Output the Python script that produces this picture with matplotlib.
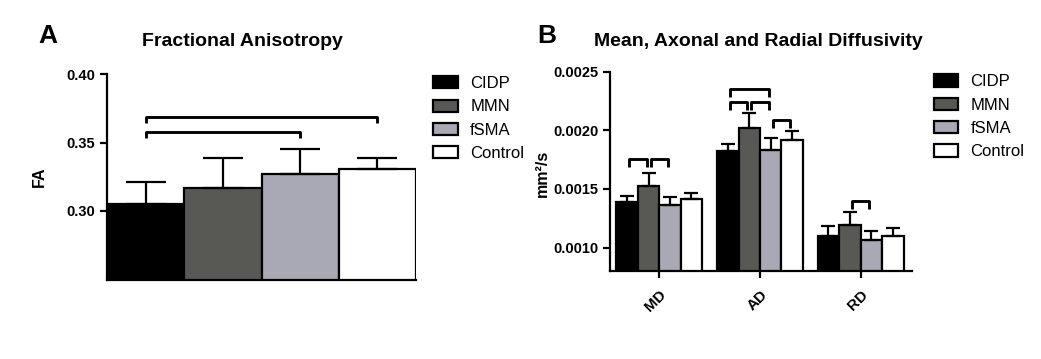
import matplotlib
matplotlib.use("Agg")
import matplotlib.pyplot as plt
import numpy as np
from matplotlib.patches import Patch

plt.rcParams['font.family'] = ['Liberation Sans', 'DejaVu Sans']

groups = ['CIDP', 'MMN', 'fSMA', 'Control']
colors = ['#000000', '#585855', '#a9a9b5', '#ffffff']

# Panel A: Fractional anisotropy
fa_mean = [0.305, 0.317, 0.327, 0.331]
fa_err = [0.016, 0.022, 0.018, 0.008]
fa_brackets = [(0, 3, 0.3686), (0, 2, 0.3578)]

# Panel B: diffusivities
measures = ['MD', 'AD', 'RD']
diff_mean = {
    'CIDP':    [0.001385, 0.001825, 0.001100],
    'MMN':     [0.001521, 0.002023, 0.001193],
    'fSMA':    [0.001366, 0.001833, 0.001062],
    'Control': [0.001417, 0.001918, 0.001096],
}
diff_err = {
    'CIDP':    [0.000051, 0.000062, 0.000087],
    'MMN':     [0.000117, 0.000125, 0.000113],
    'fSMA':    [0.000068, 0.000102, 0.000083],
    'Control': [0.000048, 0.000077, 0.000074],
}
# (measure index, group i, group j, y)
diff_brackets = [(0, 0, 1, 0.001757), (0, 1, 2, 0.001757),
                 (1, 0, 2, 0.00235), (1, 0, 1, 0.002244), (1, 1, 2, 0.002244),
                 (1, 2, 3, 0.002088), (2, 1, 2, 0.00140)]

fig = plt.figure(figsize=(10.41, 3.59), dpi=100)
W, H = 1041, 359

lw = 1.6

# ---------- Panel A ----------
axA = fig.add_axes([107 / W, 1 - 279.5 / H, (416 - 107) / W, (279.5 - 74) / H])
x = np.arange(4)
axA.bar(x, fa_mean, width=1.0, color=colors, edgecolor='black', linewidth=lw, zorder=2)
axA.errorbar(x, fa_mean, yerr=[np.zeros(4), fa_err], fmt='none', ecolor='black',
             elinewidth=lw, capsize=14.5, capthick=lw, zorder=3)
for i, j, y in fa_brackets:
    d = 0.0045
    axA.plot([i, i, j, j], [y - d, y, y, y - d], color='black', lw=lw * 1.3,
             solid_capstyle='butt', zorder=4)
axA.set_xlim(-0.5, 3.5)
axA.set_ylim(0.25, 0.40)
axA.set_yticks([0.30, 0.35, 0.40])
axA.set_yticklabels(['0.30', '0.35', '0.40'])
axA.set_xticks([])
for s in ['top', 'right']:
    axA.spines[s].set_visible(False)
axA.spines['left'].set_linewidth(lw)
axA.spines['bottom'].set_linewidth(lw)
axA.tick_params(axis='y', width=lw, length=5, labelsize=10.5)
for lab in axA.get_yticklabels():
    lab.set_fontweight('bold')
axA.set_ylabel('FA', fontsize=11.5, fontweight='bold', labelpad=14)
fig.text(242 / W, 1 - 42 / H, 'Fractional Anisotropy', fontsize=14, fontweight='bold',
         ha='center', va='center')
fig.text(38 / W, 1 - 36 / H, 'A', fontsize=19, fontweight='bold', va='center')

handles = [Patch(facecolor=c, edgecolor='black', linewidth=lw) for c in colors]
axA.legend(handles, groups, loc='upper left', bbox_to_anchor=(1.035, 1.022), frameon=False,
           fontsize=12, handlelength=1.45, handleheight=0.75, labelspacing=0.5,
           handletextpad=0.75, borderaxespad=0)

# ---------- Panel B ----------
axB = fig.add_axes([610 / W, 1 - 271 / H, (912 - 610) / W, (271 - 71.7) / H])
bw = 0.213
xg = np.arange(3)
for k, g in enumerate(groups):
    pos = xg + (k - 1.5) * bw
    axB.bar(pos, diff_mean[g], width=bw, color=colors[k], edgecolor='black',
            linewidth=lw, zorder=2)
    axB.errorbar(pos, diff_mean[g], yerr=[np.zeros(3), diff_err[g]], fmt='none',
                 ecolor='black', elinewidth=lw, capsize=5, capthick=lw, zorder=3)
for m, i, j, y in diff_brackets:
    pi = m + (i - 1.5) * bw
    pj = m + (j - 1.5) * bw
    inset = 0.02
    d = 0.00007
    axB.plot([pi + inset, pi + inset, pj - inset, pj - inset], [y - d, y, y, y - d],
             color='black', lw=lw * 1.3, solid_capstyle='butt', zorder=4)
axB.set_xlim(-0.49, 2.51)
axB.set_ylim(0.0008, 0.0025)
axB.set_yticks([0.0010, 0.0015, 0.0020, 0.0025])
axB.set_yticklabels(['0.0010', '0.0015', '0.0020', '0.0025'])
axB.set_xticks(xg)
axB.set_xticklabels(measures, rotation=45, ha='right', rotation_mode='anchor')
for s in ['top', 'right']:
    axB.spines[s].set_visible(False)
axB.spines['left'].set_linewidth(lw)
axB.spines['bottom'].set_linewidth(lw)
axB.tick_params(axis='y', width=lw, length=5, labelsize=10.5)
axB.tick_params(axis='x', width=lw, length=5, labelsize=11, pad=7)
for lab in axB.get_yticklabels() + axB.get_xticklabels():
    lab.set_fontweight('bold')
axB.set_ylabel('mm²/s', fontsize=11.5, fontweight='bold', labelpad=6)
axB.yaxis.set_label_coords(-0.2, 0.49)
fig.text(758 / W, 1 - 42 / H, 'Mean, Axonal and Radial Diffusivity', fontsize=14,
         fontweight='bold', ha='center', va='center')
fig.text(537 / W, 1 - 36 / H, 'B', fontsize=19, fontweight='bold', va='center')

axB.legend(handles, groups, loc='upper left', bbox_to_anchor=(1.05, 1.02), frameon=False,
           fontsize=12, handlelength=1.45, handleheight=0.75, labelspacing=0.5,
           handletextpad=0.75, borderaxespad=0)

fig.savefig('out.png', dpi=100)
